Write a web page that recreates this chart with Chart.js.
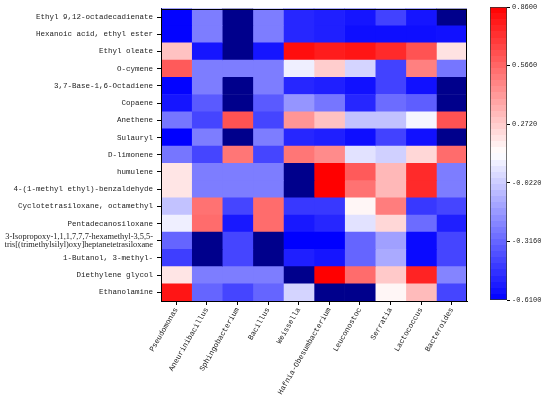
<!DOCTYPE html>
<html><head><meta charset="utf-8">
<script src="https://cdn.jsdelivr.net/npm/chart.js@4/dist/chart.umd.min.js"></script>
<style>
html,body{margin:0;padding:0;background:#fff;}
#wrap{position:relative;width:550px;height:399px;overflow:hidden;}
#heat{position:absolute;left:0;top:0;}
#cbar{position:absolute;left:470px;top:0;}
</style></head><body>
<div id="wrap">
<canvas id="heat" width="550" height="399"></canvas>
<canvas id="cbar" width="80" height="399"></canvas>
</div>
<script>
// ---- data ----
const compounds = [
  "Ethyl 9,12-octadecadienate",
  "Hexanoic acid, ethyl ester",
  "Ethyl oleate",
  "O-cymene",
  "3,7-Base-1,6-Octadiene",
  "Copaene",
  "Anethene",
  "Sulauryl",
  "D-limonene",
  "humulene",
  "4-(1-methyl ethyl)-benzaldehyde",
  "Cyclotetrasiloxane, octamethyl",
  "Pentadecanosiloxane",
  ["3-Isopropoxy-1,1,1,7,7,7-hexamethyl-3,5,5-", "tris[(trimethylsilyl)oxy]heptanetetrasiloxane"],
  "1-Butanol, 3-methyl-",
  "Diethylene glycol",
  "Ethanolamine"
];
const genera = ["Pseudomonas","Aneurinibacillus","Sphingobacterium","Bacillus","Weissella",
  "Hafnia-Obesumbacterium","Leuconostoc","Serratia","Lactococcus","Bacteroides"];

// correlation values per genus, one per compound (top to bottom); values below -0.61 drawn in navy
const pseudomonas      = [-0.60,-0.60, 0.30, 0.60,-0.60,-0.55,-0.27,-0.61,-0.27, 0.20, 0.20,-0.05, 0.08,-0.32,-0.43, 0.20, 0.80];
const aneurinibacillus = [-0.25,-0.25,-0.55,-0.25,-0.25,-0.35,-0.41,-0.25,-0.41,-0.25,-0.25, 0.53, 0.55,-0.70,-0.70,-0.25,-0.32];
const sphingobacterium = [-0.70,-0.70,-0.70,-0.25,-0.70,-0.70, 0.62,-0.70, 0.52,-0.25,-0.25,-0.41,-0.54,-0.41,-0.41,-0.25,-0.41];
const bacillus         = [-0.25,-0.25,-0.55,-0.25,-0.25,-0.35,-0.41,-0.25,-0.41,-0.25,-0.25, 0.55, 0.55,-0.70,-0.70,-0.25,-0.32];
const weissella        = [-0.50,-0.50, 0.82, 0.08,-0.50,-0.18, 0.43,-0.50, 0.52,-0.70,-0.70,-0.45,-0.54,-0.61,-0.52,-0.70, 0.00];
const hafnia           = [-0.52,-0.52, 0.78, 0.27,-0.52,-0.27, 0.30,-0.52, 0.46, 0.86, 0.86,-0.45,-0.50,-0.61,-0.55, 0.86,-0.70];
const leuconostoc      = [-0.55,-0.57, 0.80, 0.00,-0.56,-0.50,-0.05,-0.57, 0.04, 0.60, 0.53, 0.15, 0.04,-0.32,-0.32, 0.55,-0.70];
const serratia         = [-0.42,-0.57, 0.74,-0.42,-0.42,-0.30,-0.05,-0.42,-0.01, 0.33, 0.33, 0.50, 0.24,-0.15,-0.12, 0.28, 0.15];
const lactococcus      = [-0.55,-0.57, 0.62, 0.49,-0.56,-0.34, 0.10,-0.56, 0.24, 0.74, 0.74,-0.45,-0.30,-0.58,-0.58, 0.76, 0.32];
const bacteroides      = [-0.70,-0.56, 0.21,-0.27,-0.70,-0.70, 0.62,-0.70, 0.55,-0.25,-0.25,-0.41,-0.52,-0.41,-0.41,-0.23,-0.41];
const columns = [pseudomonas,aneurinibacillus,sphingobacterium,bacillus,weissella,hafnia,leuconostoc,serratia,lactococcus,bacteroides];

const VMIN = -0.61, VMAX = 0.86;
const cbTicks = [-0.61, -0.316, -0.022, 0.272, 0.566, 0.86];
const UNDER = '#00008c';
const NBANDS = 48;

function bwr(v){
  if (v < VMIN - 1e-9) return UNDER;
  let t = (Math.min(v, VMAX) - VMIN) / (VMAX - VMIN);
  let r, g, b;
  if (t < 0.5) { const s = t / 0.5; r = g = Math.round(255 * s); b = 255; }
  else { const s = (t - 0.5) / 0.5; r = 255; g = b = Math.round(255 * (1 - s)); }
  return `rgb(${r},${g},${b})`;
}

const MONO = 'Liberation Mono';
const frame = {
  id: 'frame',
  afterDatasetsDraw(chart){
    const {ctx, chartArea:a} = chart;
    ctx.save(); ctx.strokeStyle = '#000'; ctx.lineWidth = 1;
    ctx.strokeRect(Math.round(a.left) + 0.5, Math.round(a.top) + 0.5, Math.round(a.right - a.left) - 1, Math.round(a.bottom - a.top) - 1);
    ctx.restore();
  }
};

new Chart(document.getElementById('heat'), {
  type: 'bar',
  data: {
    labels: compounds,
    datasets: genera.map((g, j) => ({
      label: g,
      data: columns[j].map(() => 1),
      backgroundColor: columns[j].map(bwr),
      borderWidth: 0,
      barPercentage: 1,
      categoryPercentage: 1
    }))
  },
  options: {
    indexAxis: 'y', responsive: false, animation: false, devicePixelRatio: 1,
    layout: { padding: { top: 7, right: 83, left: 0, bottom: 0 } },
    plugins: { legend: { display: false }, tooltip: { enabled: false } },
    scales: {
      x: {
        type: 'linear', stacked: true, min: 0, max: genera.length,
        afterBuildTicks: s => { s.ticks = genera.map((g, i) => ({ value: i + 0.5 })); },
        afterFit: s => { s.height = 98; },
        ticks: { autoSkip: false, minRotation: 60, maxRotation: 60, padding: 1, color: '#222',
                 font: { family: MONO, size: 7.5 }, callback: (v, i) => genera[i] },
        grid: { drawOnChartArea: false, tickLength: 4, color: '#000' },
        border: { color: '#000', width: 1 }
      },
      y: {
        stacked: true,
        afterFit: s => { s.width = 161; },
        ticks: { autoSkip: false, padding: 4, color: '#222',
                 font: c => c.index === 13 ? { family: 'Liberation Serif', size: 8.4, lineHeight: 0.95 } : { family: MONO, size: 7.5 } },
        grid: { drawOnChartArea: false, offset: false, tickLength: 4, color: '#000' },
        border: { color: '#000', width: 1 }
      }
    }
  },
  plugins: [frame]
});

function cbGradient(chart){
  const a = chart.chartArea;
  if (!a) return bwr(0.1);
  const g = chart.ctx.createLinearGradient(0, a.bottom, 0, a.top);
  for (let k = 0; k < NBANDS; k++) {
    const c = bwr(VMIN + (k + 0.5) * (VMAX - VMIN) / NBANDS);
    g.addColorStop(k / NBANDS, c);
    g.addColorStop((k + 1) / NBANDS, c);
  }
  return g;
}

new Chart(document.getElementById('cbar'), {
  type: 'bar',
  data: { labels: ['cb'], datasets: [{
    data: [[VMIN, VMAX]],
    backgroundColor: c => cbGradient(c.chart),
    borderColor: '#333', borderWidth: 1, borderSkipped: false,
    barPercentage: 1, categoryPercentage: 1
  }] },
  options: {
    responsive: false, animation: false, devicePixelRatio: 1,
    layout: { padding: { top: 7, bottom: 99, left: 20, right: 0 } },
    plugins: { legend: { display: false }, tooltip: { enabled: false } },
    scales: {
      x: { display: false },
      y: {
        position: 'right', min: VMIN, max: VMAX,
        afterBuildTicks: s => { s.ticks = cbTicks.map(v => ({ value: v })); },
        afterFit: s => { s.width = 43; },
        ticks: { autoSkip: false, padding: 2, color: '#222', font: { family: MONO, size: 7 },
                 callback: v => v.toFixed(4) },
        grid: { drawOnChartArea: false, tickLength: 3, color: '#000' },
        border: { display: false }
      }
    }
  }
});
</script>
</body></html>
